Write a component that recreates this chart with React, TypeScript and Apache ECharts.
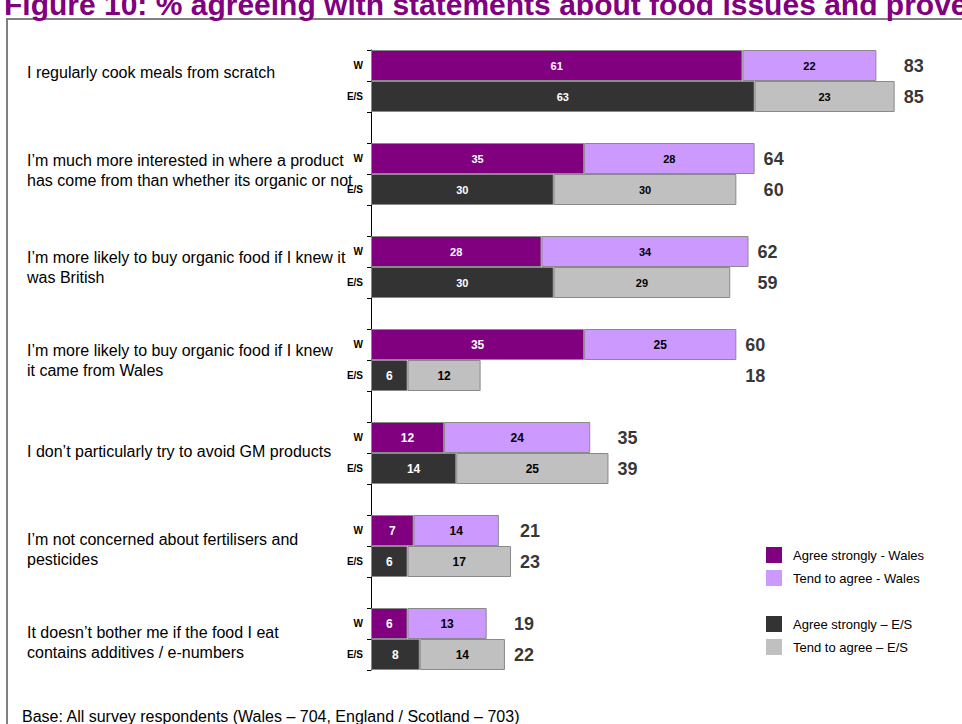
import React, { useEffect, useRef } from "react";
import * as echarts from "echarts";

const titleText = "Figure 10: % agreeing with statements about food issues and provenance";
const baseNote = "Base: All survey respondents (Wales – 704, England / Scotland – 703)";

const statements = [
  "I regularly cook meals from scratch",
  "I’m much more interested in where a product\nhas come from than whether its organic or not",
  "I’m more likely to buy organic food if I knew it\nwas British",
  "I’m more likely to buy organic food if I knew\nit came from Wales",
  "I don’t particularly try to avoid GM products",
  "I’m not concerned about fertilisers and\npesticides",
  "It doesn’t bother me if the food I eat\ncontains additives / e-numbers",
];
const rowLabels = ["W", "E/S"];
const seriesNames = [
  "Agree strongly - Wales",
  "Tend to agree - Wales",
  "Agree strongly – E/S",
  "Tend to agree – E/S",
];
const walesStrong = [61, 35, 28, 35, 12, 7, 6];
const walesTend = [22, 28, 34, 25, 24, 14, 13];
const walesTotal = [83, 64, 62, 60, 35, 21, 19];
const esStrong = [63, 30, 30, 6, 14, 6, 8];
const esTend = [23, 30, 29, 12, 25, 17, 14];
const esTotal = [85, 60, 59, 18, 39, 23, 22];

// layout-only tweaks (pixels)
const statementOffsets = [-9, -4, 0, 0, -2, 3, 3];

const FONT = '"Liberation Sans", Arial, sans-serif';

export default function App() {
  const ref = useRef<HTMLDivElement>(null);
  useEffect(() => {
    if (!ref.current) return;
    const chart = echarts.init(ref.current, undefined, { renderer: "svg" });
    const nGroups = statements.length;
    const cats: string[] = [];
    for (let g = 0; g < nGroups; g++) {
      cats.push(rowLabels[0], rowLabels[1]);
      if (g < nGroups - 1) cats.push("");
    }
    const slotOf = (g: number, r: number) => g * 3 + r;
    const build = (vals: number[], r: number) =>
      cats.map((_, i) => {
        const g = Math.floor(i / 3);
        if (i % 3 !== r) return "-";
        return { value: vals[g], label: { fontSize: g < 3 ? 11 : 12 } };
      });
    const mk = (name: string, color: string, vals: number[], r: number, labelColor: string) => ({
      name,
      type: "bar",
      stack: "all",
      barWidth: "100%",
      barCategoryGap: "0%",
      data: build(vals, r),
      itemStyle: { color, borderColor: "#8a8a8a", borderWidth: 1 },
      label: {
        show: true,
        position: "inside",
        color: labelColor,
        fontWeight: "bold",
        fontFamily: FONT,
      },
      emphasis: { disabled: true },
    });
    const totalsData: any[] = [];
    for (let g = 0; g < nGroups; g++) {
      const mx = Math.max(walesStrong[g] + walesTend[g], esStrong[g] + esTend[g]);
      totalsData.push({ value: [mx + 1.4, slotOf(g, 0)], total: walesTotal[g] });
      totalsData.push({ value: [mx + 1.4, slotOf(g, 1)], total: esTotal[g] });
    }
    const legendCommon = {
      orient: "vertical",
      left: 766,
      itemWidth: 16,
      itemHeight: 16,
      itemGap: 7,
      icon: "rect",
      padding: 0,
      itemStyle: { borderWidth: 0 },
      textStyle: { fontSize: 13, color: "#000", fontFamily: FONT, padding: [0, 0, 0, 6] },
      selectedMode: false,
    };
    chart.setOption({
      animation: false,
      grid: { left: 371, top: 50, width: 548, height: 620, containLabel: false },
      xAxis: { type: "value", min: 0, max: 90, show: false },
      yAxis: {
        type: "category",
        data: cats,
        inverse: true,
        axisLine: { lineStyle: { color: "#000", width: 1 } },
        axisTick: { show: true, interval: 0, length: 4, lineStyle: { color: "#000" } },
        axisLabel: {
          interval: 0,
          fontSize: 10,
          fontWeight: "bold",
          color: "#000",
          margin: 8,
          fontFamily: FONT,
        },
      },
      legend: [
        { ...legendCommon, top: 547, data: [seriesNames[0], seriesNames[1]] },
        { ...legendCommon, top: 616, data: [seriesNames[2], seriesNames[3]] },
      ],
      series: [
        mk(seriesNames[0], "#800080", walesStrong, 0, "#fff"),
        mk(seriesNames[1], "#cc99ff", walesTend, 0, "#000"),
        mk(seriesNames[2], "#333333", esStrong, 1, "#fff"),
        mk(seriesNames[3], "#c0c0c0", esTend, 1, "#000"),
        {
          name: "totals",
          type: "scatter",
          symbolSize: 1,
          itemStyle: { color: "rgba(0,0,0,0)" },
          data: totalsData,
          label: {
            show: true,
            position: "right",
            distance: 0,
            formatter: (p: any) => String(p.data.total),
            fontSize: 18,
            fontWeight: "bold",
            color: "#000",
            fontFamily: FONT,
          },
          emphasis: { disabled: true },
          silent: true,
        },
      ],
    });
    const texts: any[] = [];
    for (let g = 0; g < nGroups; g++) {
      const y1 = chart.convertToPixel({ yAxisIndex: 0 }, slotOf(g, 0)) as number;
      const y2 = chart.convertToPixel({ yAxisIndex: 0 }, slotOf(g, 1)) as number;
      texts.push({
        type: "text",
        x: 27,
        y: (y1 + y2) / 2 + statementOffsets[g],
        style: {
          text: statements[g],
          fontSize: 16,
          lineHeight: 20,
          fill: "#000",
          fontFamily: FONT,
          align: "left",
          verticalAlign: "middle",
        },
      });
    }
    chart.setOption({
      graphic: [
        {
          type: "rect",
          shape: { x: 7, y: 19, width: 2000, height: 2000 },
          style: { fill: "none", stroke: "#808080", lineWidth: 2 },
          z: 0,
        },
        {
          type: "text",
          x: 4,
          y: 4,
          style: {
            text: titleText,
            fontSize: 30,
            fontWeight: "bold",
            fill: "#800080",
            fontFamily: FONT,
            align: "left",
            verticalAlign: "middle",
          },
        },
        {
          type: "text",
          x: 22,
          y: 716,
          style: {
            text: baseNote,
            fontSize: 16,
            fill: "#000",
            fontFamily: FONT,
            align: "left",
            verticalAlign: "middle",
          },
        },
        ...texts,
      ],
    });
    return () => chart.dispose();
  }, []);
  return (
    <div
      ref={ref}
      style={{ position: "absolute", left: 0, top: 0, width: 962, height: 724, background: "#fff" }}
    />
  );
}
